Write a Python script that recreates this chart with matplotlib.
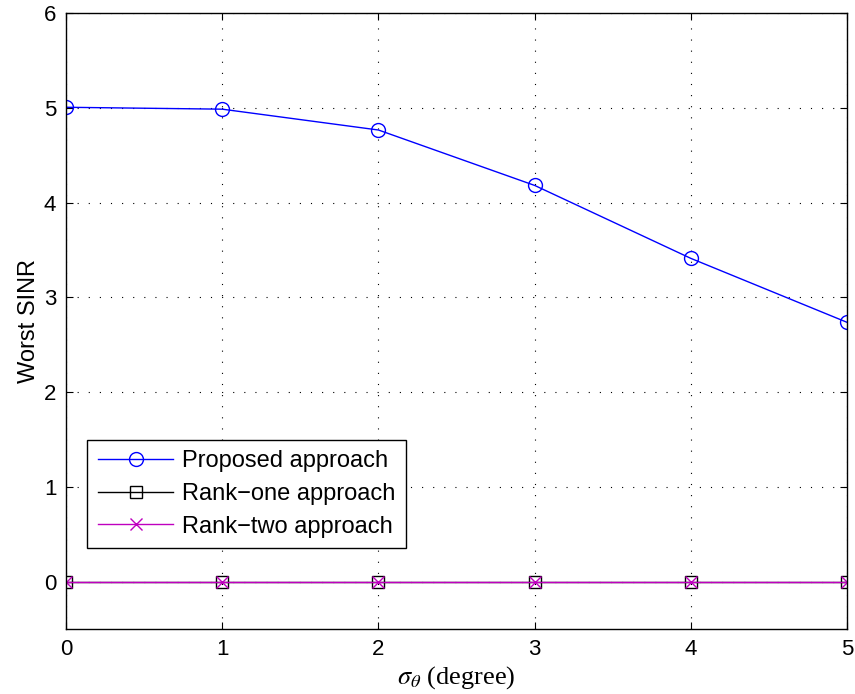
import matplotlib
matplotlib.use('Agg')
import matplotlib.pyplot as plt

plt.rcParams['font.family'] = ['Liberation Sans', 'DejaVu Sans']
plt.rcParams['mathtext.fontset'] = 'stix'

sigma = [0, 1, 2, 3, 4, 5]
proposed = [5.005, 4.985, 4.765, 4.18, 3.41, 2.735]
rank_one = [0, 0, 0, 0, 0, 0]
rank_two = [0, 0, 0, 0, 0, 0]

fig = plt.figure(figsize=(8.55, 6.94), dpi=100)
ax = fig.add_axes([0.0772, 0.0937, 0.9137, 0.8876])

ax.plot(sigma, proposed, color='b', marker='o', markersize=10, markerfacecolor='none',
        markeredgecolor='b', linewidth=1, label='Proposed approach')
ax.plot(sigma, rank_one, color='k', marker='s', markersize=8, markerfacecolor='none',
        markeredgecolor='k', linewidth=1, label='Rank\u2212one approach')
ax.plot(sigma, rank_two, color='m', marker='x', markersize=8, markeredgewidth=1,
        linewidth=1, label='Rank\u2212two approach')

ax.set_xlim(0, 5)
ax.set_ylim(-0.5, 6)
ax.set_xticks(range(0, 6))
ax.set_yticks(range(0, 7))
ax.grid(True, linestyle=(0, (1, 9)), color='k', linewidth=0.8)
ax.tick_params(direction='in', top=True, right=True, labelsize=16, length=5, pad=7)
for s in ax.spines.values():
    s.set_linewidth(1)

ax.set_xlabel(r'$\sigma_\theta$ (degree)', fontsize=19, family='Liberation Serif', labelpad=3)
ax.set_ylabel('Worst SINR', fontsize=17, labelpad=3)

leg = ax.legend(loc='lower left', bbox_to_anchor=(0.027, 0.131), fontsize=17,
                fancybox=False, edgecolor='k', framealpha=1, handlelength=3.2,
                borderpad=0.45, labelspacing=0.45, handletextpad=0.35, borderaxespad=0)
leg.get_frame().set_linewidth(1)

plt.savefig('out.png', dpi=100)
